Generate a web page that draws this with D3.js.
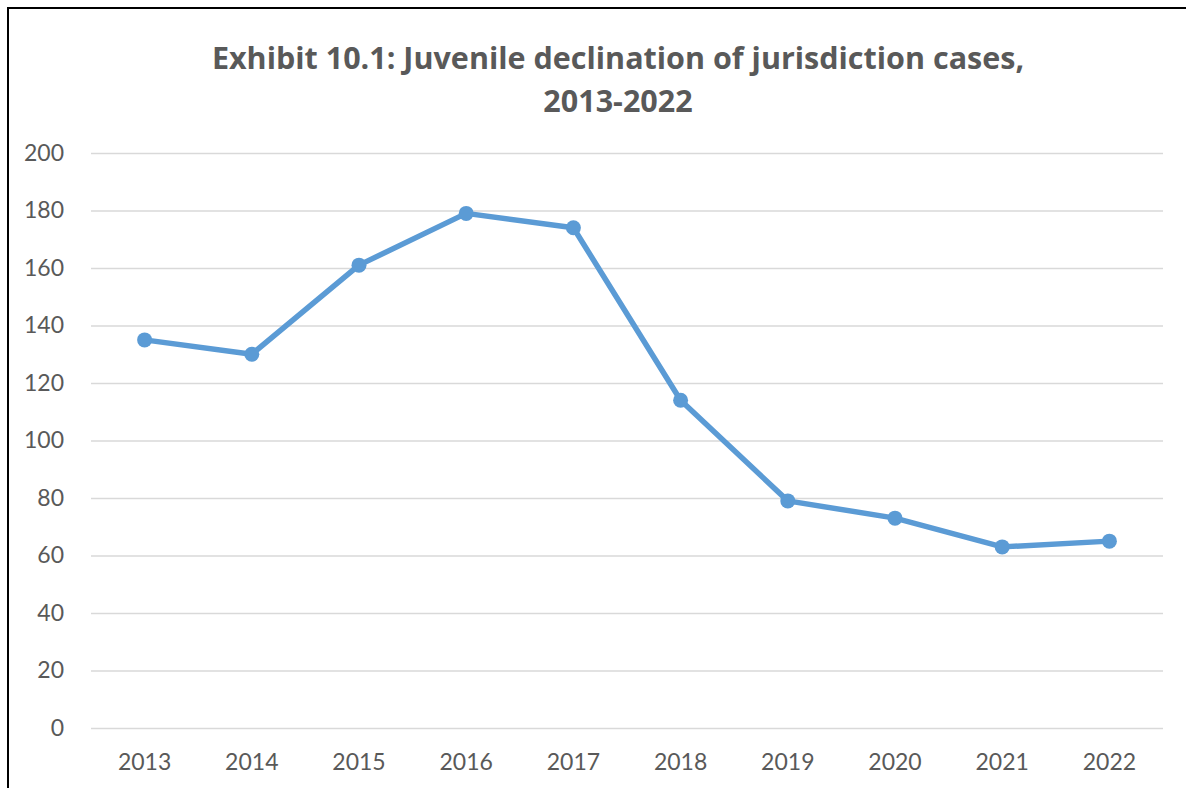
<!DOCTYPE html>
<html>
<head>
<meta charset="utf-8">
<script src="https://cdn.jsdelivr.net/npm/d3@7"></script>
<style>
  body { margin: 0; background: #fff; }
  svg { display: block; }
</style>
</head>
<body>
<svg id="chart"></svg>
<script>
const years = [ '2013', '2014', '2015', '2016', '2017', '2018', '2019', '2020', '2021', '2022' ];
const cases = [ 135, 130, 161, 179, 174, 114, 79, 73, 63, 65 ];
const yTicks = [ 0, 20, 40, 60, 80, 100, 120, 140, 160, 180, 200 ];
const titleLines = [ 'Exhibit 10.1: Juvenile declination of jurisdiction cases,', '2013-2022' ];

const width = 1186;
const height = 788;
const plot = { left: 91, right: 1163, top: 153, bottom: 728 };
const textColor = '#595959';
const lineColor = '#5B9BD5';
const font = 'Lato, "Open Sans", sans-serif';
const titleFont = '"Open Sans", Lato, sans-serif';

let svg = d3.select( '#chart' ).attr( 'width', width ).attr( 'height', height );

// outer frame (runs off the right and bottom of the picture)
svg.append( 'rect' )
  .attr( 'x', 8 ).attr( 'y', 8 )
  .attr( 'width', 1300 ).attr( 'height', 900 )
  .attr( 'fill', 'none' ).attr( 'stroke', '#000' ).attr( 'stroke-width', 2 );

let x = d3.scaleBand().domain( years ).range( [ plot.left, plot.right ] );
let y = d3.scaleLinear().domain( [ 0, 200 ] ).range( [ plot.bottom, plot.top ] );

// title
svg.append( 'text' )
  .attr( 'x', 618 ).attr( 'y', 69 )
  .attr( 'text-anchor', 'middle' )
  .attr( 'font-family', titleFont ).attr( 'font-weight', 'bold' )
  .attr( 'font-size', 30.5 ).attr( 'fill', textColor )
  .selectAll( 'tspan' )
  .data( titleLines )
  .enter().append( 'tspan' )
  .attr( 'x', 618 )
  .attr( 'dy', function( d, i ) { return i === 0 ? 0 : 43; } )
  .text( function( d ) { return d; } );

// gridlines + y labels
let yAxis = d3.axisLeft( y ).tickValues( yTicks ).tickSize( -( plot.right - plot.left ) ).tickPadding( 27 );
let yg = svg.append( 'g' ).attr( 'transform', 'translate(' + plot.left + ',0)' ).call( yAxis );
yg.select( '.domain' ).remove();
yg.selectAll( '.tick line' ).attr( 'stroke', '#d9d9d9' ).attr( 'stroke-width', 1.5 );
yg.selectAll( '.tick text' )
  .attr( 'font-family', font ).attr( 'font-size', 23 ).attr( 'fill', textColor );

// x labels
let xAxis = d3.axisBottom( x ).tickSize( 0 ).tickPadding( 26 );
let xg = svg.append( 'g' ).attr( 'transform', 'translate(0,' + plot.bottom + ')' ).call( xAxis );
xg.select( '.domain' ).remove();
xg.selectAll( '.tick text' )
  .attr( 'font-family', font ).attr( 'font-size', 23 ).attr( 'fill', textColor );

// series
let line = d3.line()
  .x( function( d, i ) { return x( years[ i ] ) + x.bandwidth() / 2; } )
  .y( function( d ) { return y( d ); } );

svg.append( 'path' )
  .datum( cases )
  .attr( 'd', line )
  .attr( 'fill', 'none' ).attr( 'stroke', lineColor )
  .attr( 'stroke-width', 5.5 ).attr( 'stroke-linejoin', 'round' );

svg.selectAll( '.dot' )
  .data( cases )
  .enter().append( 'circle' )
  .attr( 'class', 'dot' )
  .attr( 'cx', function( d, i ) { return x( years[ i ] ) + x.bandwidth() / 2; } )
  .attr( 'cy', function( d ) { return y( d ); } )
  .attr( 'r', 7.5 )
  .attr( 'fill', lineColor );
</script>
</body>
</html>
